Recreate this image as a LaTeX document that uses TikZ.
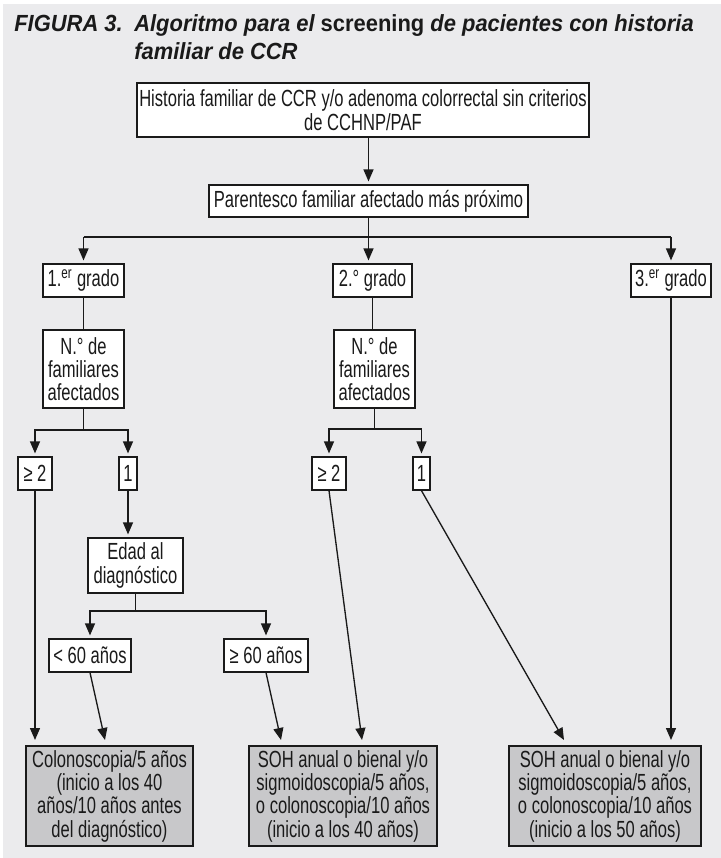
\documentclass[tikz,border=0pt]{standalone}
\usepackage{fontspec}
\setmainfont{Liberation Sans}[FakeStretch=0.71]
\newfontfamily\titlefont{Liberation Sans}[FakeStretch=0.94]
\usetikzlibrary{arrows.meta,calc}

\definecolor{panel}{HTML}{EBEBED}
\definecolor{resfill}{HTML}{C8C8CA}
\definecolor{ink}{HTML}{1A1A1A}

\newcommand\bodyfont{\fontsize{17.5pt}{17.5pt}\selectfont}
\newcommand\headfont{\titlefont\fontsize{17.5pt}{20pt}\selectfont\bfseries}

\begin{document}
\begin{tikzpicture}[
  x=0.75pt, y=-0.75pt,
  bx/.style={draw=ink, line width=1pt, fill=white, inner sep=0pt,
             align=center, font=\bodyfont, text=ink},
  res/.style={bx, fill=resfill},
  ln/.style={draw=ink, line width=1pt},
  tip/.style={ln, -{Triangle[length=9pt,width=7.5pt]}},
  arr/.style={tip, shorten >=2.2pt},
]
% page and panel
\useasboundingbox (0,0) rectangle (721,858);
\fill[white] (0,0) rectangle (721,858);
\fill[panel] (3,4) rectangle (721,858);

% title
\node[anchor=base west, inner sep=0pt, font=\headfont, text=ink] (fig) at (14,31) {\itshape FIGURA 3.};
\node[anchor=base west, inner sep=0pt, font=\headfont, text=ink] (ttlA) at (134,31)
  {\itshape Algoritmo para el \upshape screening \itshape de pacientes con historia};
\node[anchor=base west, inner sep=0pt, font=\headfont, text=ink] (ttlB) at (134,59)
  {\itshape familiar de CCR};

% decision boxes
\node[bx, minimum width=452*0.75pt, minimum height=54*0.75pt] (hist) at (363,110)
  {Historia familiar de CCR y/o adenoma colorrectal sin criterios\\de CCHNP/PAF};
\node[bx, minimum width=319*0.75pt, minimum height=32*0.75pt] (paren) at (368.5,201)
  {Parentesco familiar afectado más próximo};

\node[bx, minimum width=81*0.75pt, minimum height=33*0.75pt] (g1) at (83.5,280.5)
  {1.\textsuperscript{er} grado};
\node[bx, minimum width=79*0.75pt, minimum height=33*0.75pt] (g2) at (372.5,280.5)
  {2.° grado};
\node[bx, minimum width=80*0.75pt, minimum height=33*0.75pt] (g3) at (671,280.5)
  {3.\textsuperscript{er} grado};

\node[bx, minimum width=81*0.75pt, minimum height=78*0.75pt] (n1) at (83.5,369)
  {N.° de\\familiares\\afectados};
\node[bx, minimum width=81*0.75pt, minimum height=78*0.75pt] (n2) at (374.5,369)
  {N.° de\\familiares\\afectados};

\node[bx, minimum width=34*0.75pt, minimum height=33*0.75pt] (ge2a) at (35,473.5) {≥ 2};
\node[bx, minimum width=18*0.75pt, minimum height=33*0.75pt] (onea) at (128,473.5) {1};
\node[bx, minimum width=34*0.75pt, minimum height=33*0.75pt] (ge2b) at (329,473.5) {≥ 2};
\node[bx, minimum width=17*0.75pt, minimum height=33*0.75pt] (oneb) at (421.5,473.5) {1};

\node[bx, minimum width=95*0.75pt, minimum height=55*0.75pt] (edad) at (135.5,565.5)
  {Edad al\\diagnóstico};
\node[bx, minimum width=82*0.75pt, minimum height=33*0.75pt] (lt60) at (90,655.5) {< 60 años};
\node[bx, minimum width=84*0.75pt, minimum height=33*0.75pt] (ge60) at (266,655.5) {≥ 60 años};

% recommendations
\node[res, minimum width=167*0.75pt, minimum height=100*0.75pt] (resA) at (109.5,796)
  {Colonoscopia/5 años\\(inicio a los 40\\años/10 años antes\\del diagnóstico)};
\node[res, minimum width=188*0.75pt, minimum height=100*0.75pt] (resB) at (343,796)
  {SOH anual o bienal y/o\\sigmoidoscopia/5 años,\\o colonoscopia/10 años\\(inicio a los 40 años)};
\node[res, minimum width=192*0.75pt, minimum height=100*0.75pt] (resC) at (605,796)
  {SOH anual o bienal y/o\\sigmoidoscopia/5 años,\\o colonoscopia/10 años\\(inicio a los 50 años)};

% branch levels and arrow ends
\coordinate (barT) at (0,237);
\coordinate (barN1) at (0,430);
\coordinate (barN2) at (0,429);
\coordinate (barE) at (0,611);
\coordinate (eA1) at (33,740);
\coordinate (eA2) at (105,740);
\coordinate (eB1) at (281,740);
\coordinate (eB2) at (362,740);
\coordinate (eC1) at (564,740);
\coordinate (eC2) at (669,740);

% connectors
\draw[arr] (hist.south -| paren.north) -- (paren.north);
\draw[arr] (paren.south) -- (paren.south |- g2.north);
\draw[ln] (g1.north |- barT) -- (g3.north |- barT);
\draw[arr] (g1.north |- barT) -- (g1.north);
\draw[arr] (g3.north |- barT) -- (g3.north);

\draw[ln] (g1.south) -- (n1.north);
\draw[ln] (g2.south) -- (g2.south |- n2.north);

\draw[ln] (n1.south) -- (n1.south |- barN1);
\draw[arr] (n1.south |- barN1) -| (ge2a.north);
\draw[arr] (n1.south |- barN1) -| (onea.north);

\draw[ln] (n2.south) -- (n2.south |- barN2);
\draw[arr] (n2.south |- barN2) -| (ge2b.north);
\draw[arr] (n2.south |- barN2) -| (oneb.north);

\draw[arr] (onea.south) -- (onea.south |- edad.north);

\draw[ln] (edad.south) -- (edad.south |- barE);
\draw[arr] (edad.south |- barE) -| (lt60.north);
\draw[arr] (edad.south |- barE) -| (ge60.north);

\draw[tip] (ge2a.south) -- (ge2a.south |- eA1);
\draw[tip] (lt60.south) -- (eA2);
\draw[tip] (ge60.south) -- (eB1);
\draw[tip] (ge2b.south) -- (eB2);
\draw[tip] (oneb.south) -- (eC1);
\draw[tip] (g3.south) -- (g3.south |- eC2);
\end{tikzpicture}
\end{document}
